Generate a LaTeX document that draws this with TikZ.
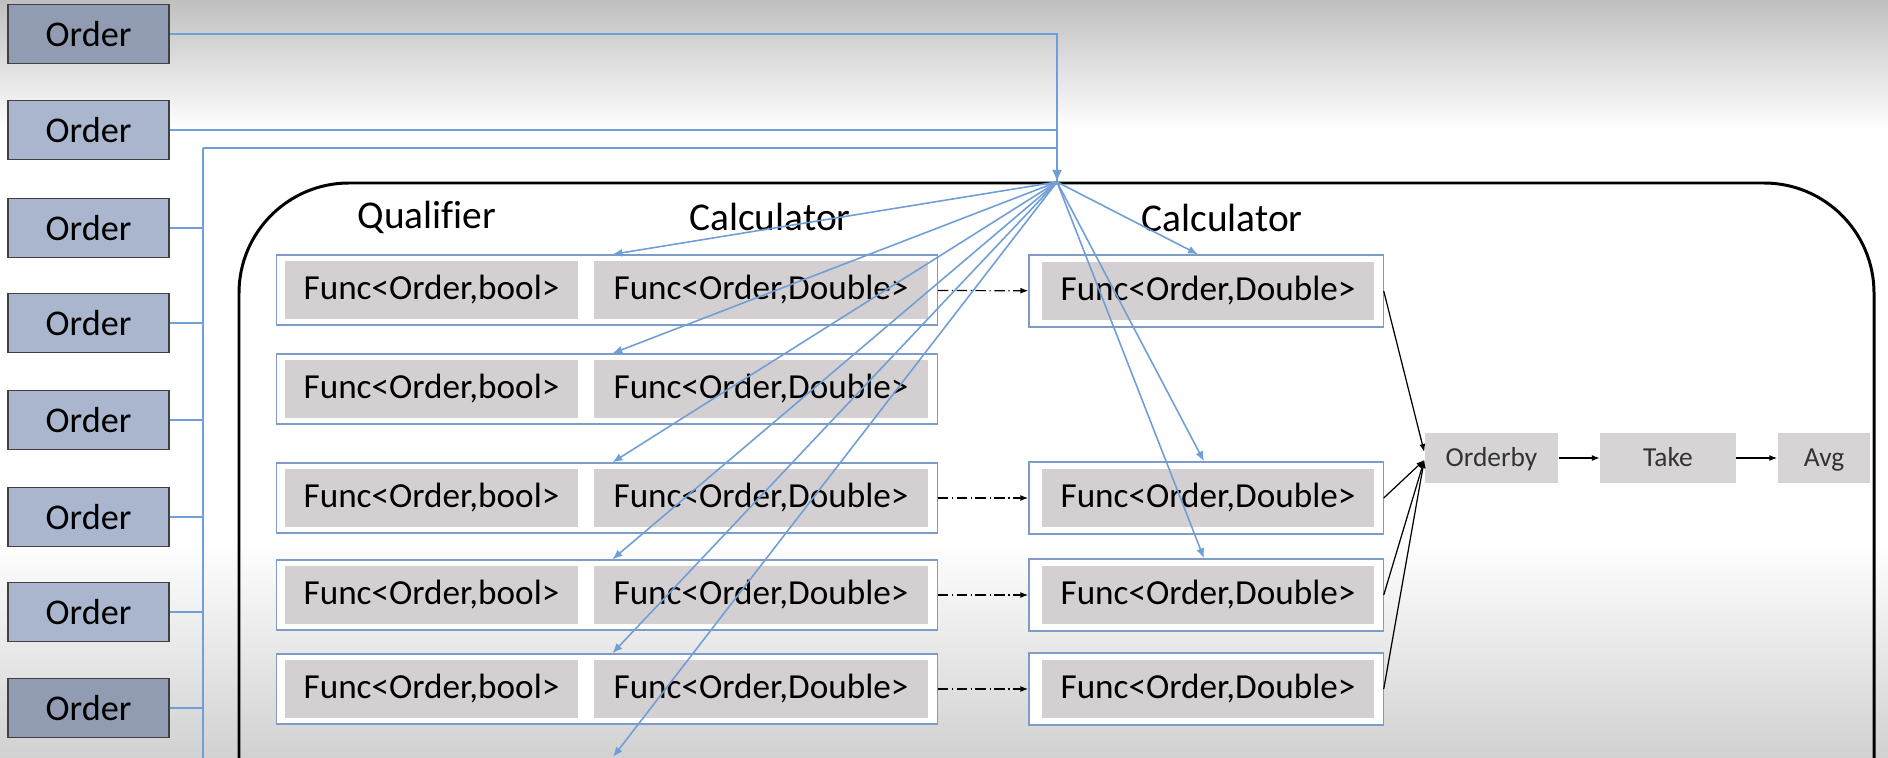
\documentclass[tikz,border=0pt]{standalone}
\usepackage{fontspec}
\setmainfont[Ligatures=NoCommon]{Carlito}
\usetikzlibrary{arrows.meta,positioning}
\definecolor{wire}{HTML}{6F9FD6}
\definecolor{orderfill}{HTML}{A9B6CD}
\definecolor{orderdark}{HTML}{919CB2}
\definecolor{funcfill}{HTML}{D4D0D1}
\definecolor{rowline}{HTML}{7F9CC6}
\definecolor{stepfill}{HTML}{D6D4D5}
\tikzset{
  orderbox/.style={draw=black!75, line width=0.55pt, minimum width=1.61cm, minimum height=0.59cm, inner sep=0pt, font=\fontsize{10.3}{12}\selectfont},
  rowbox/.style={draw=rowline, line width=0.35pt, fill=white, minimum height=0.70cm, inner sep=0pt},
  funcbox/.style={fill=funcfill, minimum height=0.57cm, inner sep=0pt, font=\fontsize{10}{12}\selectfont},
  stepbox/.style={fill=stepfill, minimum height=0.49cm, inner sep=0pt, text height=0.7em, text depth=0.2em, text=black!80, font=\fontsize{7.8}{9}\selectfont},
  header/.style={anchor=base, font=\fontsize{11.2}{13}\selectfont},
  wirearrow/.style={draw=wire, line width=0.45pt, -{Latex[length=0.1cm, width=0.08cm]}},
  flow/.style={draw=black, line width=0.35pt, -{Latex[length=0.08cm, width=0.06cm]}},
  passon/.style={draw=black, line width=0.35pt, densely dash dot, -{Latex[length=0.08cm, width=0.06cm]}},
}
\begin{document}
\begin{tikzpicture}[x=0.01cm, y=-0.01cm]
\useasboundingbox (0,0) rectangle (1888,758);
\clip (0,0) rectangle (1888,758);
% background
\fill[white] (0,0) rectangle (1888,758);
\shade[top color=black!25, bottom color=white] (0,0) rectangle (1888,130);
\shade[top color=white, bottom color=black!18] (0,540) rectangle (1888,758);

% the orders
\foreach \i/\y/\c in {1/34/orderdark,2/130/orderfill,3/228/orderfill,4/323/orderfill,
                      5/420/orderfill,6/517/orderfill,7/612/orderfill,8/708/orderdark}
  \node[orderbox, fill=\c] (ord\i) at (88.5,\y) {Order};

\coordinate (hub) at (1057,182);
\coordinate (bustop) at (203,148);
\coordinate (busend) at (203,770);

% wires from the orders
\draw[wire, line width=0.45pt] (ord1.east) -| (hub);
\draw[wire, line width=0.45pt] (ord2.east) -- (ord2.east -| hub);
\draw[wire, line width=0.65pt] (busend) -- (bustop);
\draw[wire, line width=0.65pt, -{Latex[length=0.12cm, width=0.1cm]}] (bustop) -| (hub);
\foreach \i in {3,...,8}
  \draw[wire, line width=0.45pt] (ord\i.east) -- (ord\i.east -| bustop);

% the pipeline frame
\draw[line width=0.85pt, rounded corners=1.1cm] (239,1000) -- (239,183) -- (1874,183) -- (1874,1000);

\node[header] (qual) at (427,229) {Qualifier};
\node[header] (calcl) at (770,231) {Calculator};
\node[header] (calcr) at (1222,232) {Calculator};

% rows of funcs
\foreach \i/\y in {1/290,2/389,3/498,4/595,5/689} {
  \node[rowbox, minimum width=6.60cm] (row\i) at (607,\y) {};
  \node[funcbox, minimum width=2.93cm] (bool\i) at (431.5,\y) {Func<Order,bool>};
  \node[funcbox, minimum width=3.34cm] (dbl\i) at (761,\y) {Func<Order,Double>};
}
\foreach \i/\y in {1/291,3/498,4/595,5/689} {
  \node[rowbox, minimum width=3.54cm, minimum height=0.72cm] (calc\i) at (1206,\y) {};
  \node[funcbox, minimum width=3.32cm, minimum height=0.58cm] (calcf\i) at (1208,\y) {Func<Order,Double>};
  \draw[passon] (row\i) -- (calc\i);
}

% fan out from the hub
\coordinate (lost) at (613,757);
\foreach \i in {1,...,5}
  \draw[wirearrow] (hub) -- ([xshift=3.36cm]row\i.north west);
\draw[wirearrow] (hub) -- (lost);
\draw[wirearrow] (hub) -- ([xshift=-0.08cm]calc1.north);
\draw[wirearrow] (hub) -- ([xshift=-0.02cm]calc3.north);
\draw[wirearrow] (hub) -- ([xshift=-0.02cm]calc4.north);

% the tail
\node[stepbox, minimum width=1.33cm] (orderby) at (1491.5,458) {Orderby};
\node[stepbox, minimum width=1.35cm, right=0.41cm of orderby] (take) {Take};
\node[stepbox, minimum width=0.92cm, right=0.41cm of take] (avg) {Avg};
\draw[flow] (calc1.east) -- ([yshift=0.06cm]orderby.west);
\foreach \i in {3,4,5}
  \draw[flow] (calc\i.east) -- ([yshift=-0.02cm]orderby.west);
\draw[flow] (orderby) -- (take);
\draw[flow] (take) -- (avg);
\end{tikzpicture}
\end{document}
